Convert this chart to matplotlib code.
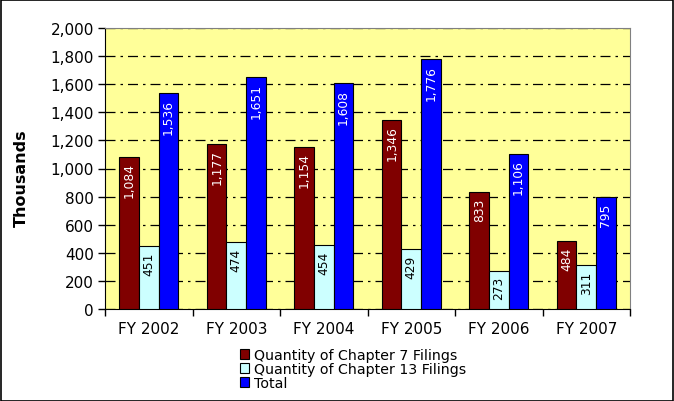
import matplotlib
matplotlib.use("Agg")
import matplotlib.pyplot as plt
from matplotlib.patches import Rectangle, Patch
import numpy as np

categories = ["FY 2002", "FY 2003", "FY 2004", "FY 2005", "FY 2006", "FY 2007"]
chapter7 = [1084, 1177, 1154, 1346, 833, 484]
chapter13 = [451, 474, 454, 429, 273, 311]
total = [1536, 1651, 1608, 1776, 1106, 795]
series_names = ["Quantity of Chapter 7 Filings", "Quantity of Chapter 13 Filings", "Total"]
colors = ["#800000", "#CCFFFF", "#0000FF"]
text_colors = ["white", "black", "white"]
yticks = list(range(0, 2001, 200))

plt.rcParams['font.family'] = ['DejaVu Sans']
fig = plt.figure(figsize=(6.74, 4.02), dpi=100)
fig.patch.set_facecolor("white")
fig.add_artist(Rectangle((0.001, 0.001), 0.997, 0.996, transform=fig.transFigure,
                         fill=False, edgecolor="black", linewidth=1.2))

ax = fig.add_axes([105/674, 1-310/402, 525/674, 281/402])
ax.set_facecolor("#FFFF99")

x = np.arange(len(categories))
w = 0.223
for i, (vals, c, tc) in enumerate(zip([chapter7, chapter13, total], colors, text_colors)):
    xs = x + (i - 1) * w
    ax.bar(xs, vals, width=w, color=c, edgecolor="black", linewidth=0.8, zorder=3,
           label=series_names[i])
    for xx, v in zip(xs, vals):
        ax.annotate(f"{v:,}", (xx, v), xytext=(0, -4), textcoords="offset points",
                    rotation=90, ha="center", va="top", fontsize=8.8, color=tc, zorder=4)

ax.set_xlim(-0.5, len(categories) - 0.5)
ax.set_ylim(0, 2000)
ax.set_yticks(yticks)
ax.set_yticklabels([f"{t:,}" for t in yticks], fontsize=11)
ax.yaxis.grid(True, color="black", linestyle=(0, (8, 4, 2, 4)), linewidth=0.9, zorder=1)
ax.set_axisbelow(True)

ax.set_xticks(np.arange(-0.5, len(categories), 1.0))
ax.set_xticklabels([])
ax.set_xticks(x, minor=True)
ax.set_xticklabels(categories, minor=True, fontsize=11)
ax.tick_params(axis="x", which="minor", length=0, pad=9)
ax.tick_params(axis="x", which="major", length=5, direction="out", width=1)
ax.tick_params(axis="y", length=5, direction="out", width=1, pad=3)

for s in ["left", "bottom"]:
    ax.spines[s].set_color("black")
for s in ["top", "right"]:
    ax.spines[s].set_color("#808080")

fig.text(21/674, 1-178/402, "Thousands", rotation=90, ha="center", va="center",
         fontsize=11.5, fontweight="bold")

handles = [Patch(facecolor=c, edgecolor="black", linewidth=0.8) for c in colors]
fig.legend(handles, series_names, loc="upper left", bbox_to_anchor=(240/674, 1-349/402),
           frameon=False, fontsize=10.2, handlelength=0.65, handleheight=0.65,
           handletextpad=0.35, labelspacing=0.0, borderpad=0, borderaxespad=0)

fig.savefig("out.png", dpi=100)
